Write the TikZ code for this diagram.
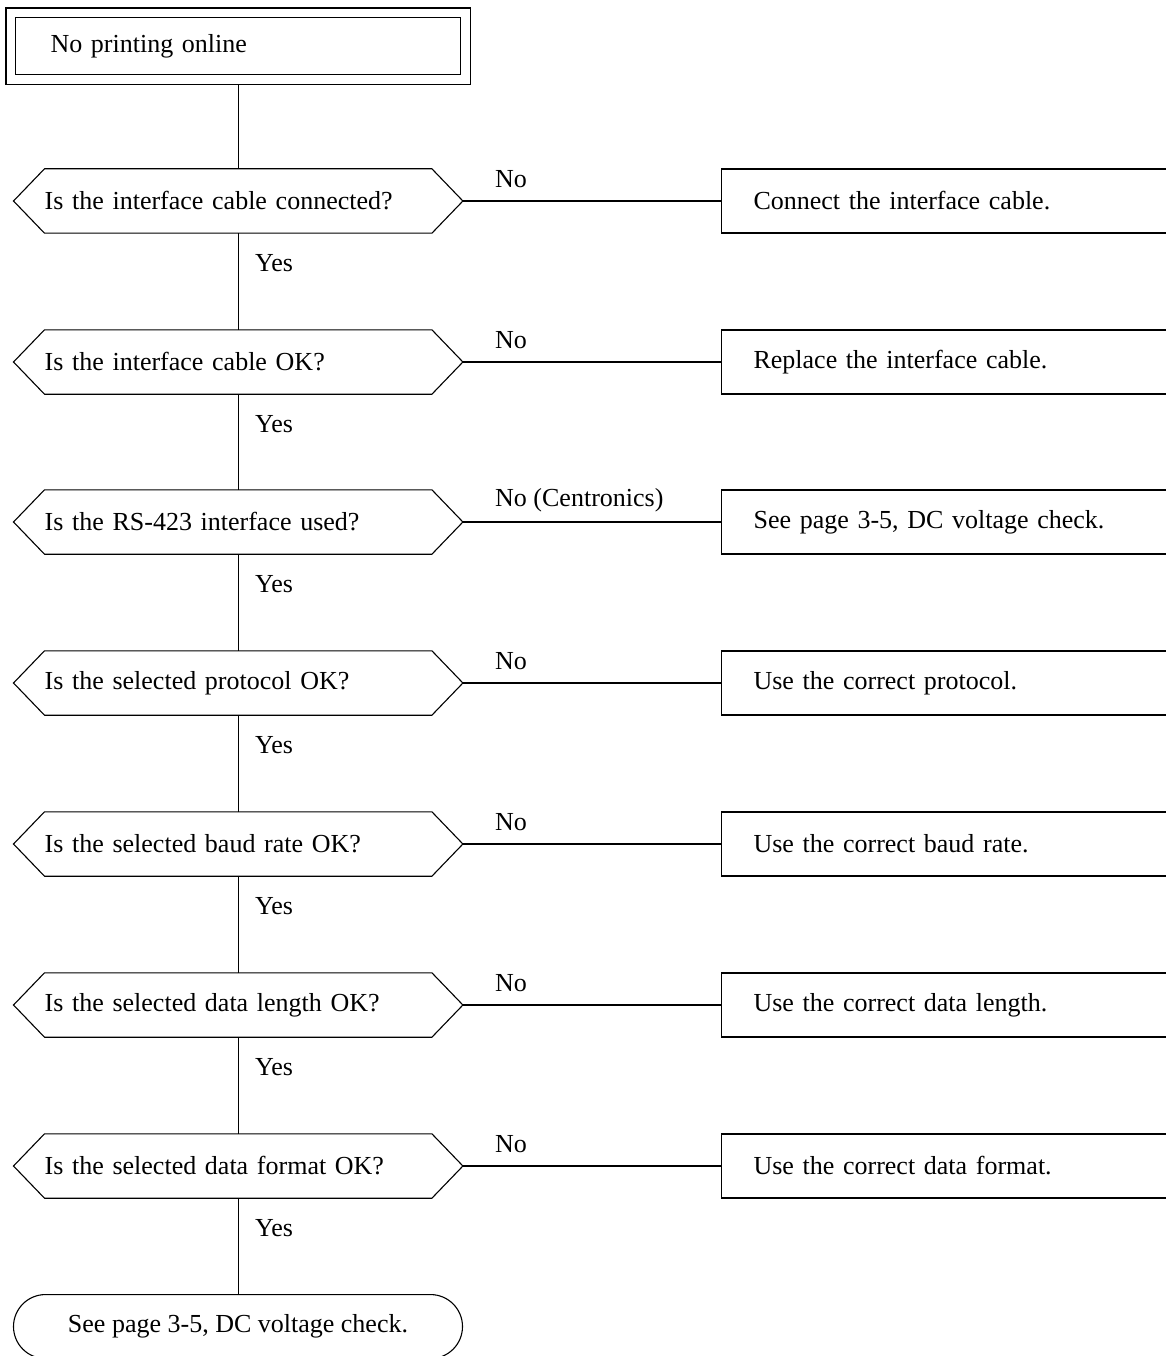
\documentclass[tikz,border=0pt]{standalone}
\usepackage{fontspec}
\setmainfont{Liberation Serif}
\usetikzlibrary{fit}
\begin{document}
\begin{tikzpicture}[x=1pt,y=-1pt,
  every node/.style={font=\fontsize{26}{31}\selectfont},
  line/.style={line width=1.1pt},
  decision/.style={rectangle, inner xsep=31pt, inner ysep=0pt, text width=387pt,
    minimum height=64pt, align=left, anchor=west},
  action/.style={draw, line width=1.1pt, rectangle, inner xsep=32pt, inner ysep=0pt,
    text width=405pt, minimum height=64pt, align=left, anchor=west},
  lbl/.style={anchor=west, inner sep=0pt}
]
\useasboundingbox (0,0) rectangle (1165,1356);
\fill[white] (0,0) rectangle (1165,1356);

% start box
\node[draw, line width=1.1pt, anchor=north west, minimum width=445pt, minimum height=57pt,
  inner xsep=35pt, inner ysep=0pt, text width=375pt, align=left] (start) at (15,17) {No printing online};
\node[draw, line width=1.1pt, fit=(start), inner sep=9pt] (outer) {};

% decisions
\node[decision] (d1) at (13.5,201) {Is the interface cable connected?};
\node[decision] (d2) at (13.5,362) {Is the interface cable OK?};
\node[decision] (d3) at (13.5,522) {Is the RS-423 interface used?};
\node[decision] (d4) at (13.5,683) {Is the selected protocol OK?};
\node[decision] (d5) at (13.5,844) {Is the selected baud rate OK?};
\node[decision] (d6) at (13.5,1005) {Is the selected data length OK?};
\node[decision] (d7) at (13.5,1166) {Is the selected data format OK?};
\foreach \n in {d1,d2,d3,d4,d5,d6,d7}
  \draw[line] (\n.west) -- ([xshift=31pt]\n.north west) -- ([xshift=-31pt]\n.north east)
    -- (\n.east) -- ([xshift=-31pt]\n.south east) -- ([xshift=31pt]\n.south west) -- cycle;

% actions
\node[action] (a1) at (721,201) {Connect the interface cable.};
\node[action] (a2) at (721,362) {Replace the interface cable.};
\node[action] (a3) at (721,522) {See page 3-5, DC voltage check.};
\node[action] (a4) at (721,683) {Use the correct protocol.};
\node[action] (a5) at (721,844) {Use the correct baud rate.};
\node[action] (a6) at (721,1005) {Use the correct data length.};
\node[action] (a7) at (721,1166) {Use the correct data format.};

% terminal
\node[draw, line width=1.1pt, rectangle, rounded corners=32pt, minimum width=449pt,
  minimum height=64pt, inner sep=0pt, anchor=north] (end) at (238,1294) {See page 3-5, DC voltage check.};

% vertical connectors
\draw[line] (outer.south) -- (outer.south |- d1.north);
\draw[line] (d1.south) -- (d2.north);
\draw[line] (d2.south) -- (d3.north);
\draw[line] (d3.south) -- (d4.north);
\draw[line] (d4.south) -- (d5.north);
\draw[line] (d5.south) -- (d6.north);
\draw[line] (d6.south) -- (d7.north);
\draw[line] (d7.south) -- (d7.south |- end.north);

% horizontal connectors
\foreach \i in {1,...,7}
  \draw[line] (d\i.east) -- (a\i.west);

% labels
\node[lbl] (n1) at (495,179) {No};
\node[lbl] (n2) at (495,340) {No};
\node[lbl] (n3) at (495,500) {No (Centronics)};
\node[lbl] (n4) at (495,661) {No};
\node[lbl] (n5) at (495,822) {No};
\node[lbl] (n6) at (495,983) {No};
\node[lbl] (n7) at (495,1144) {No};
\node[lbl] (y1) at (255,263) {Yes};
\node[lbl] (y2) at (255,424) {Yes};
\node[lbl] (y3) at (255,584) {Yes};
\node[lbl] (y4) at (255,745) {Yes};
\node[lbl] (y5) at (255,906) {Yes};
\node[lbl] (y6) at (255,1067) {Yes};
\node[lbl] (y7) at (255,1228) {Yes};
\end{tikzpicture}
\end{document}
